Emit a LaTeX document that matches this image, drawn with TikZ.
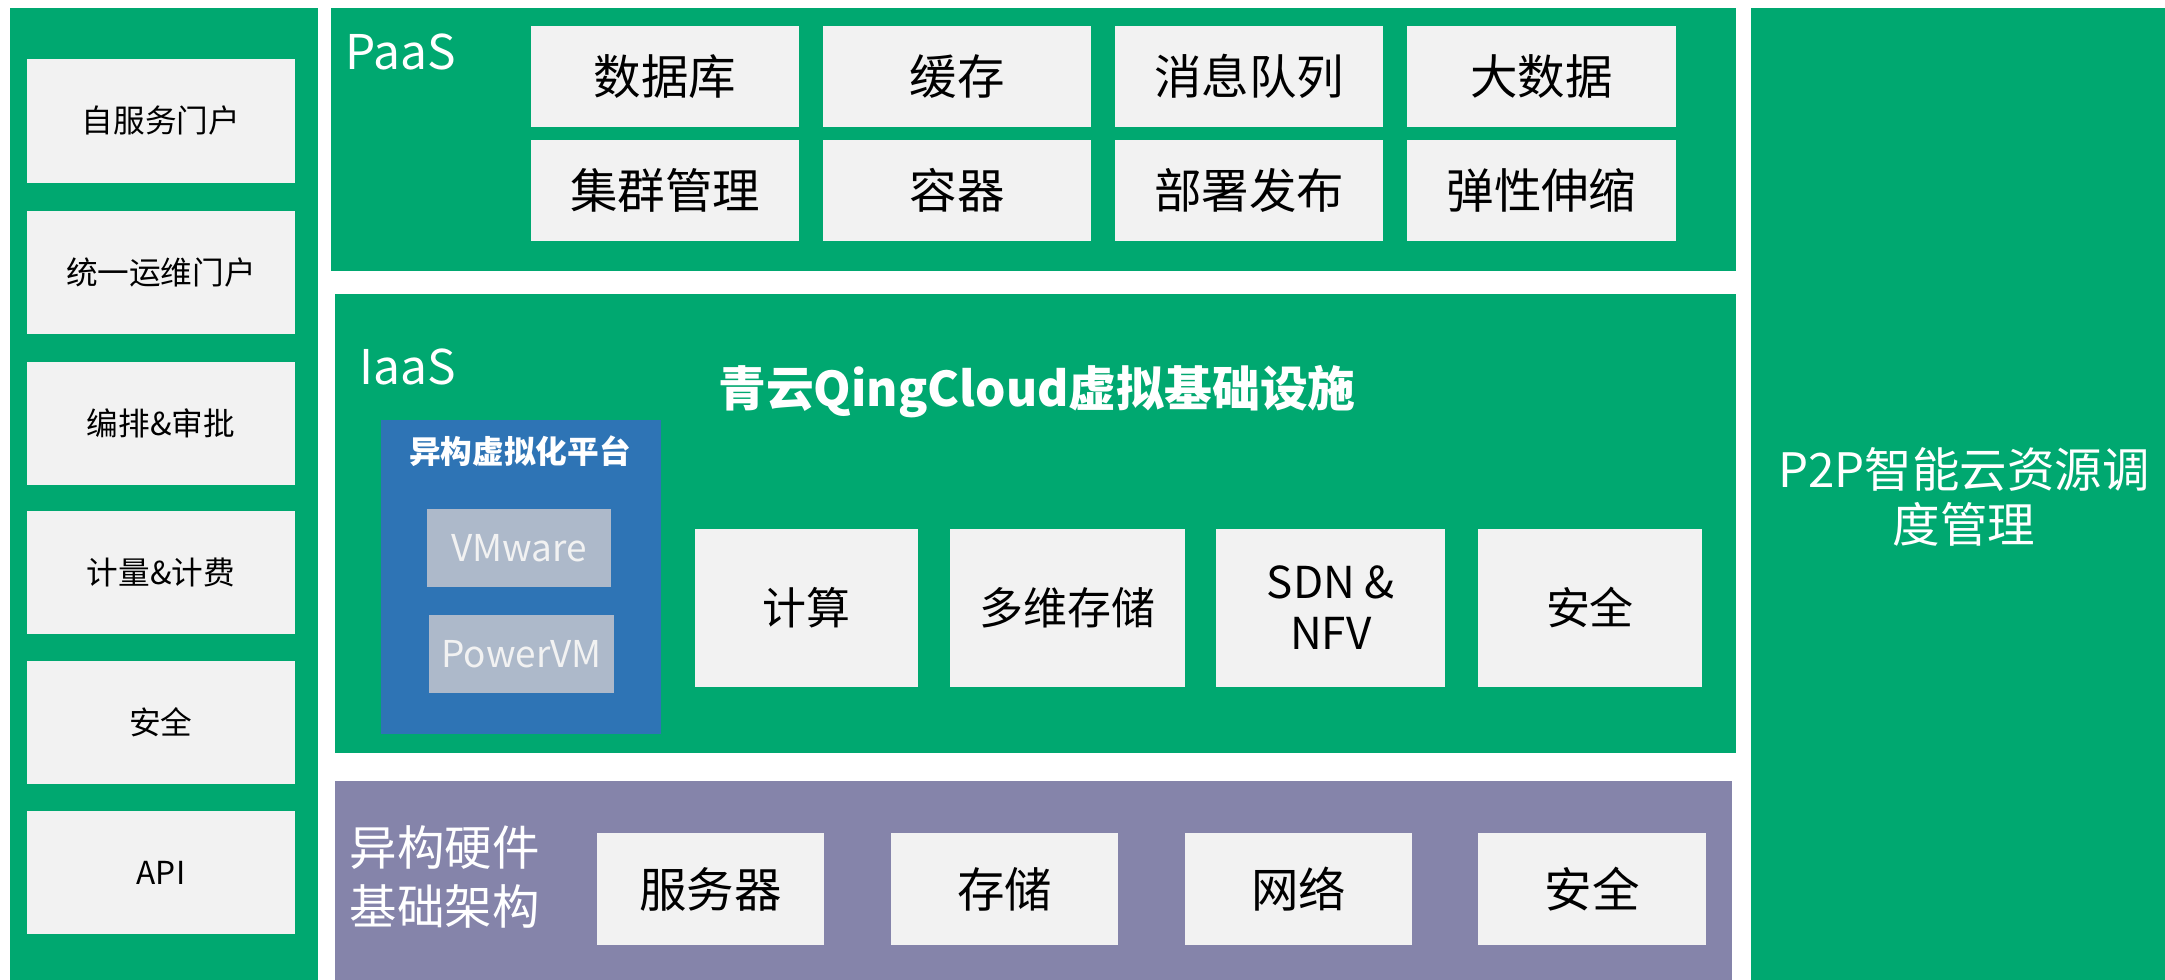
\documentclass[tikz,border=0pt]{standalone}
\usepackage{fontspec}
\setmainfont{Noto Sans CJK SC}
\usepackage{xcolor}
\usepackage{tikz}
\usetikzlibrary{positioning}
\definecolor{qgreen}{RGB}{0,168,112}
\definecolor{hwpurple}{RGB}{133,132,170}
\definecolor{vblue}{RGB}{46,116,181}
\definecolor{itemgray}{RGB}{242,242,242}
\definecolor{vmgray}{RGB}{173,185,202}

\begin{document}
\begin{tikzpicture}[x=0.01cm, y=-0.01cm,
    panel/.style={inner sep=0pt, outer sep=0pt},
    side/.style={fill=itemgray, inner sep=0pt, outer sep=0pt, minimum width=2.68cm, minimum height=1.23cm, font=\fontsize{9}{11}\selectfont},
    item/.style={fill=itemgray, inner sep=0pt, outer sep=0pt, minimum width=2.68cm, minimum height=1.01cm, font=\fontsize{13.5}{16}\selectfont},
    iitem/.style={fill=itemgray, inner sep=0pt, outer sep=0pt, minimum height=1.58cm, align=center, font=\fontsize{12.5}{14.5}\selectfont},
    hitem/.style={fill=itemgray, inner sep=0pt, outer sep=0pt, minimum width=2.27cm, minimum height=1.12cm, font=\fontsize{13.5}{16}\selectfont},
    vm/.style={fill=vmgray, text=itemgray, inner sep=0pt, outer sep=0pt, minimum height=0.78cm, font=\fontsize{10.5}{12}\selectfont},
    lbl/.style={text=white, inner sep=0pt, font=\fontsize{13.6}{16}\selectfont}]
  \useasboundingbox[fill=white] (0,0) rectangle (2165,980);

  \node[panel, fill=qgreen, minimum width=3.08cm, minimum height=9.72cm] (left) at (164,494) {};
  \node[panel, fill=qgreen, minimum width=14.05cm, minimum height=2.63cm] (paas) at (1033.5,139.5) {};
  \node[panel, fill=qgreen, minimum width=14.01cm, minimum height=4.59cm] (iaas) at (1035.5,523.5) {};
  \node[panel, fill=hwpurple, minimum width=13.97cm, minimum height=1.99cm] (hw) at (1033.5,880.5) {};
  \node[panel, fill=qgreen, minimum width=4.14cm, minimum height=9.72cm] (p2p) at (1958,494) {};

  \node[side] (portal) at (161,121) {自服务门户};
  \node[side, below=0.28cm of portal] (ops) {统一运维门户};
  \node[side, below=0.28cm of ops] (orch) {编排\&审批};
  \node[side, below=0.26cm of orch] (billing) {计量\&计费};
  \node[side, below=0.27cm of billing] (lsec) {安全};
  \node[side, below=0.27cm of lsec] (api) {API};

  \node[lbl, anchor=base west] (paaslbl) at (345,70) {PaaS};
  \node[item] (db) at (665,76.5) {数据库};
  \node[item, right=0.24cm of db] (cache) {缓存};
  \node[item, right=0.24cm of cache] (mq) {消息队列};
  \node[item, right=0.24cm of mq] (bigdata) {大数据};
  \node[item, below=0.13cm of db] (cluster) {集群管理};
  \node[item, below=0.13cm of cache] (container) {容器};
  \node[item, below=0.13cm of mq] (deploy) {部署发布};
  \node[item, below=0.13cm of bigdata] (elastic) {弹性伸缩};

  \node[lbl, anchor=base west] (iaaslbl) at (359,385) {IaaS};
  \node[text=white, inner sep=0pt, font=\bfseries\fontsize{13.6}{16}\selectfont] (qc) at (1037,392) {青云QingCloud虚拟基础设施};
  \node[panel, fill=vblue, minimum width=2.8cm, minimum height=3.14cm] (virt) at (521,577) {};
  \node[text=white, inner sep=0pt, font=\bfseries\fontsize{9}{11}\selectfont] (virtlbl) at (520,451) {异构虚拟化平台};
  \node[vm, minimum width=1.84cm] (vmware) at (519,548) {VMware};
  \node[vm, minimum width=1.85cm] (powervm) at (521.5,654) {PowerVM};
  \node[iitem, minimum width=2.23cm] (compute) at (806.5,608) {计算};
  \node[iitem, minimum width=2.35cm, right=0.32cm of compute] (mstore) {多维存储};
  \node[iitem, minimum width=2.29cm, right=0.31cm of mstore] (sdn) {SDN \&\\NFV};
  \node[iitem, minimum width=2.23cm, right=0.33cm of sdn] (isec) {安全};

  \node[text=white, inner sep=0pt, anchor=west, align=left, font=\fontsize{13.5}{16.5}\selectfont] (hwlbl) at (349,877) {异构硬件\\基础架构};
  \node[hitem] (server) at (710.5,889) {服务器};
  \node[hitem, right=0.67cm of server] (disk) {存储};
  \node[hitem, right=0.67cm of disk] (network) {网络};
  \node[hitem, right=0.66cm of network] (hwsec) {安全};

  \node[text=white, inner sep=0pt, align=center, font=\fontsize{13.5}{15.6}\selectfont] (p2ptxt) at (1964,497) {P2P智能云资源调\\度管理};
\end{tikzpicture}
\end{document}
